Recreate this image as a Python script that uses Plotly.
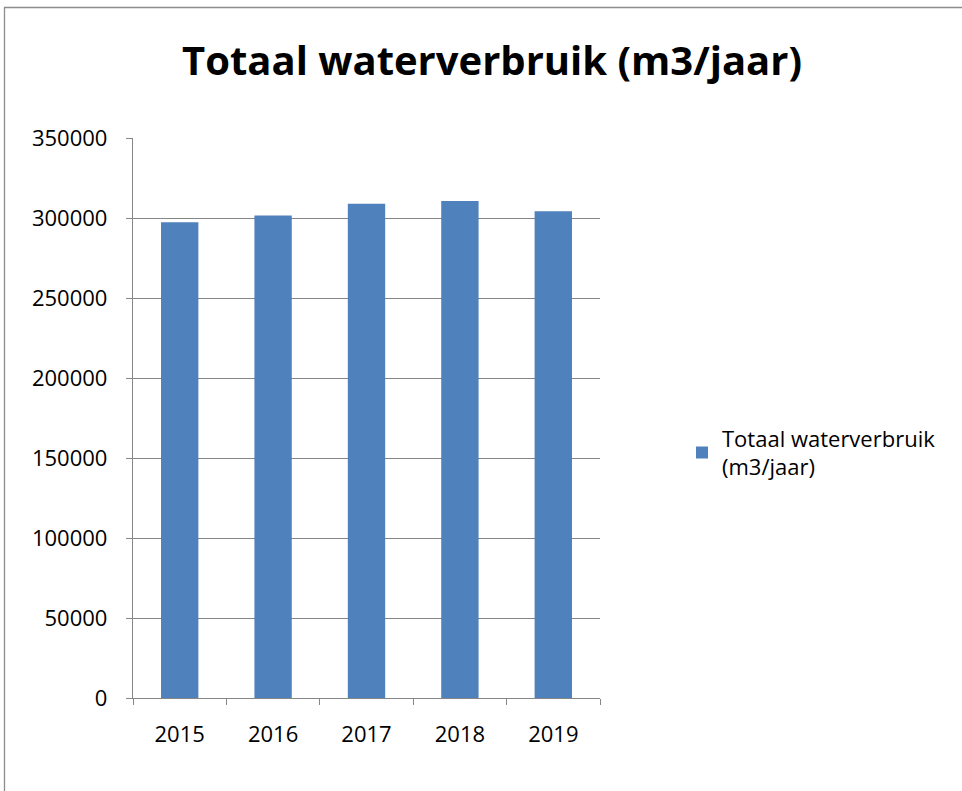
import plotly.graph_objects as go

years = ["2015", "2016", "2017", "2018", "2019"]
values = [297300, 301600, 308900, 310600, 304200]
series_name = "Totaal waterverbruik<br>(m3/jaar)"
title_text = "Totaal waterverbruik (m3/jaar)"
y_ticks = [0, 50000, 100000, 150000, 200000, 250000, 300000, 350000]

W, H = 962, 791
L, R, T, B = 133, 600, 138, 698

fig = go.Figure()
fig.add_trace(go.Bar(x=years, y=values, name=series_name, marker=dict(color="#4F81BD", line=dict(width=0)),
                     showlegend=True))

grid = "#868686"
fig.update_layout(
    width=W, height=H,
    margin=dict(l=L, r=W - R, t=T, b=H - B, pad=0),
    paper_bgcolor="white", plot_bgcolor="white",
    font=dict(family="Open Sans, Liberation Sans, sans-serif", size=22, color="black"),
    title=dict(text="<b>" + title_text + "</b>", x=492 / W, xanchor="center", xref="container",
               y=1 - 61 / H, yanchor="middle", yref="container",
               font=dict(size=40, family="Open Sans, sans-serif", color="black")),
    bargap=0.6,
    showlegend=True,
    legend=dict(x=(682 - L) / (R - L), xanchor="left", y=(B - 453) / (B - T), yanchor="middle",
                font=dict(size=22), bgcolor="rgba(0,0,0,0)", itemwidth=30),
    xaxis=dict(type="category", showline=True, linecolor=grid, linewidth=1.3, ticks="outside",
               tickson="boundaries", ticklen=6, tickcolor=grid, tickwidth=1.3, showgrid=False,
               tickfont=dict(size=22), ticklabelstandoff=16),
    yaxis=dict(range=[0, 350000], tickvals=y_ticks, ticktext=[str(v) for v in y_ticks],
               showline=True, linecolor=grid, linewidth=1.3, ticks="outside", ticklen=6,
               tickcolor=grid, tickwidth=1.3, showgrid=True, gridcolor=grid, gridwidth=1.3,
               zeroline=False, tickfont=dict(size=22), ticklabelstandoff=14),
    shapes=[dict(type="rect", xref="paper", yref="paper",
                 x0=(4.5 - L) / (R - L), x1=(W + 20 - L) / (R - L),
                 y0=(B - (H + 20)) / (B - T), y1=(B - 7.5) / (B - T),
                 line=dict(color="#8C8C8C", width=1.3), fillcolor="rgba(0,0,0,0)", layer="below")],
)

fig.write_html("out.html", config={"displayModeBar": False},
               post_script="document.body.style.margin='0';document.body.style.overflow='hidden';")
